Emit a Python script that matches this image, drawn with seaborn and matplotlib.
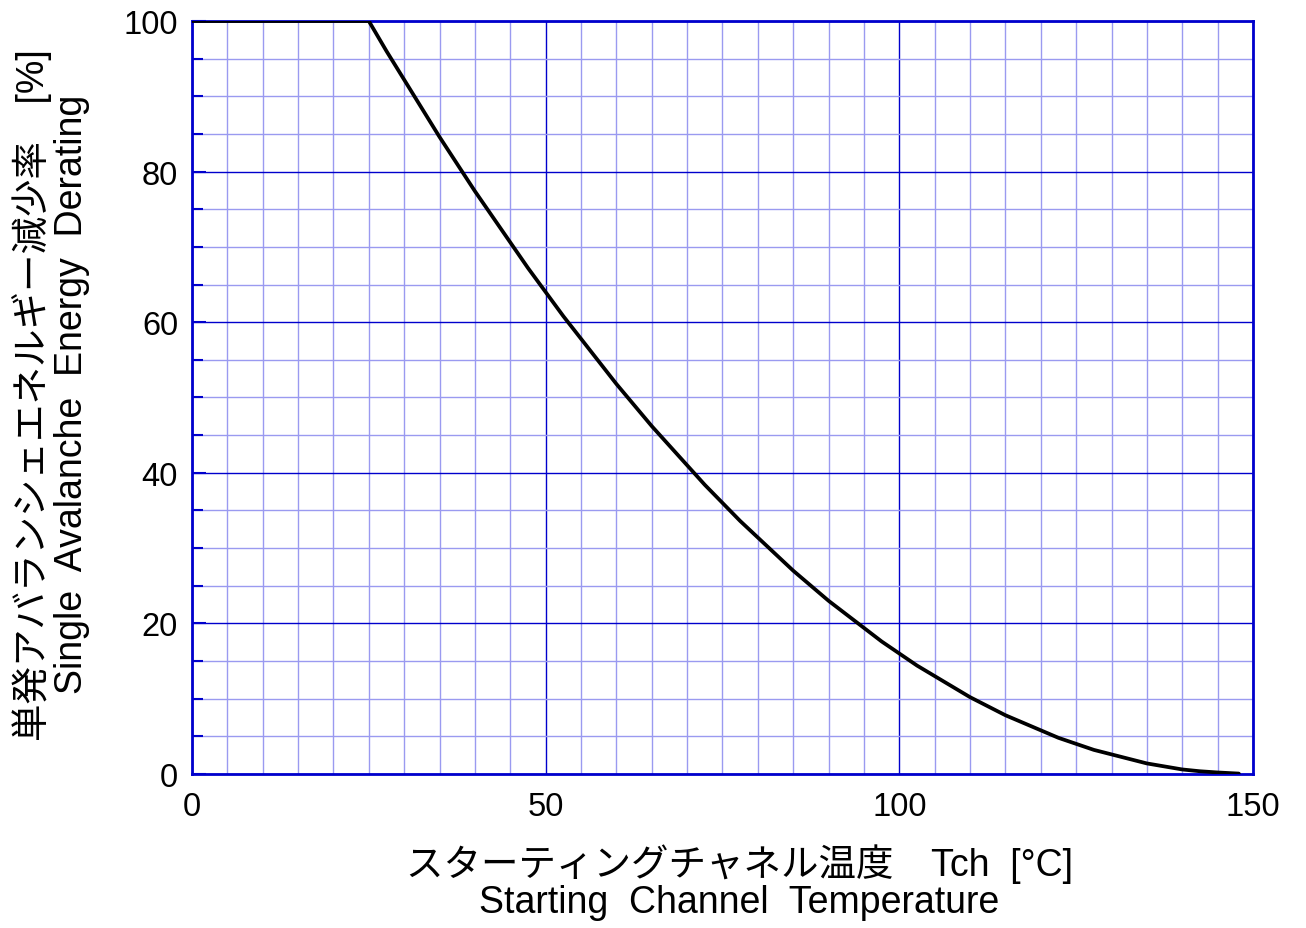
import matplotlib
matplotlib.use("Agg")
import matplotlib.pyplot as plt
import seaborn as sns
import pandas as pd
from matplotlib.ticker import MultipleLocator

sns.set_theme(style="white")
plt.rcParams['font.family'] = ['Liberation Sans', 'Noto Sans CJK JP', 'DejaVu Sans']

temperature = [0, 5, 10, 15, 20, 25, 27.5, 30, 32.5, 35, 37.5, 40, 42.5, 45, 47.5, 50,
               52.5, 55, 57.5, 60, 62.5, 65, 67.5, 70, 72.5, 75, 77.5, 80, 82.5, 85,
               87.5, 90, 92.5, 95, 97.5, 100, 102.5, 105, 107.5, 110, 112.5, 115,
               117.5, 120, 122.5, 125, 127.5, 130, 132.5, 135, 137.5, 140, 142.5, 145, 148]
derating = [100, 100, 100, 100, 100, 100, 96.0, 92.2, 88.4, 84.6, 81.0, 77.4, 74.0, 70.6,
            67.2, 64.0, 60.8, 57.8, 54.8, 51.8, 49.0, 46.2, 43.6, 41.0, 38.4, 36.0, 33.6,
            31.4, 29.2, 27.0, 25.0, 23.0, 21.2, 19.4, 17.6, 16.0, 14.4, 13.0, 11.6, 10.2,
            9.0, 7.8, 6.8, 5.8, 4.8, 4.0, 3.2, 2.6, 2.0, 1.4, 1.0, 0.6, 0.36, 0.2, 0.05]

x_label = "スターティングチャネル温度　Tch  [°C]\nStarting  Channel  Temperature"
y_label = "単発アバランシェエネルギー減少率　[%]\nSingle  Avalanche  Energy  Derating"

df = pd.DataFrame({"T": temperature, "D": derating})

fig = plt.figure(figsize=(13.06, 9.29), dpi=100)
ax = fig.add_axes([0.147, 0.1658, 0.8124, 0.8105])

major_c = "#0000cc"
minor_c = "#9a9af0"

ax.set_xlim(0, 150)
ax.set_ylim(0, 100)
ax.xaxis.set_major_locator(MultipleLocator(50))
ax.xaxis.set_minor_locator(MultipleLocator(5))
ax.yaxis.set_major_locator(MultipleLocator(20))
ax.yaxis.set_minor_locator(MultipleLocator(5))
ax.grid(which="minor", color=minor_c, linewidth=1.0)
ax.grid(which="major", color=major_c, linewidth=1.0)
ax.set_axisbelow(True)

sns.lineplot(data=df, x="T", y="D", ax=ax, color="black", linewidth=2.7, zorder=5)

for s in ax.spines.values():
    s.set_color(major_c)
    s.set_linewidth(2)
    s.set_visible(True)

ax.tick_params(which="both", direction="in", color=major_c, labelsize=23.5, labelcolor="black")
ax.tick_params(which="major", length=10, width=1.5)
ax.tick_params(which="minor", length=8, width=1.5)
ax.tick_params(axis="x", which="major", pad=12)
ax.tick_params(axis="y", which="major", pad=10)
ax.tick_params(axis="y", which="both", right=False, left=True)

ax.set_xlabel(x_label, fontsize=27, color="black", linespacing=1.05)
ax.set_ylabel(y_label, fontsize=27, color="black", linespacing=1.05)
ax.xaxis.set_label_coords(0.5 + 17 / 1061, -0.092, transform=ax.transAxes)
ax.yaxis.set_label_coords(-0.0965, 0.505, transform=ax.transAxes)
ax.xaxis.label.set_va("top")
ax.yaxis.label.set_va("bottom")

fig.savefig("out.png", dpi=100)
